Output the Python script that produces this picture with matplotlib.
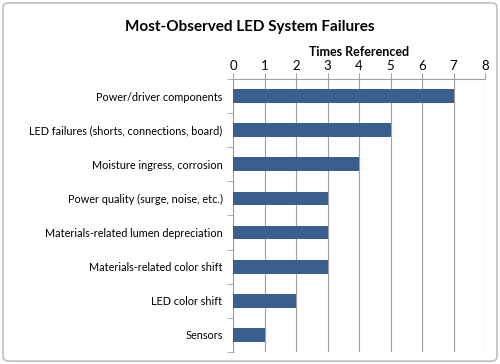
import numpy as np
import matplotlib
matplotlib.use('Agg')
import matplotlib.pyplot as plt
from matplotlib.patches import FancyBboxPatch

# Данные
categories = ['Power/driver components',
              'LED failures (shorts, connections, board)',
              'Moisture ingress, corrosion',
              'Power quality (surge, noise, etc.)',
              'Materials-related lumen depreciation',
              'Materials-related color shift',
              'LED color shift',
              'Sensors']
times_referenced = [7, 5, 4, 3, 3, 3, 2, 1]
x_ticks = [0, 1, 2, 3, 4, 5, 6, 7, 8]

plt.rcParams['font.family'] = ['Lato', 'DejaVu Sans']

fig = plt.figure(figsize=(5, 3.64), dpi=100)
ax = fig.add_axes([0.466, 0.033, 0.504, 0.75])

# Рамка вокруг рисунка
frame = FancyBboxPatch((0.006, 0.008), 0.988, 0.984, boxstyle='round,pad=0,rounding_size=0.012',
                       transform=fig.transFigure, facecolor='none', edgecolor='#bfbfbf', linewidth=1.2)
fig.patches.append(frame)

y = np.arange(len(categories))
ax.barh(y, times_referenced, height=0.4, color='#3a5f8f', zorder=3)

ax.set_xlim(0, 8)
ax.set_ylim(len(categories) - 0.5, -0.5)
ax.set_xticks(x_ticks)
ax.xaxis.tick_top()
ax.xaxis.set_label_position('top')
ax.set_xlabel('Times Referenced', fontsize=9, fontweight='bold', labelpad=3)
ax.tick_params(axis='x', labelsize=9.5, length=4, color='#a0a0a0', pad=1)

ax.set_yticks(y)
ax.set_yticklabels(categories, fontsize=7.8)
ax.set_yticks(np.arange(len(categories) + 1) - 0.5, minor=True)
ax.tick_params(axis='y', which='major', length=0, pad=7.5)
ax.tick_params(axis='y', which='minor', length=4, color='#a0a0a0')

ax.grid(axis='x', color='#a0a0a0', linewidth=0.8, zorder=0)
for side in ['right', 'bottom']:
    ax.spines[side].set_visible(False)
for side in ['left', 'top']:
    ax.spines[side].set_color('#a0a0a0')

fig.text(0.5, 0.925, 'Most-Observed LED System Failures', ha='center', va='center',
         fontsize=11, fontweight='bold')

fig.savefig('out.png', dpi=100)
